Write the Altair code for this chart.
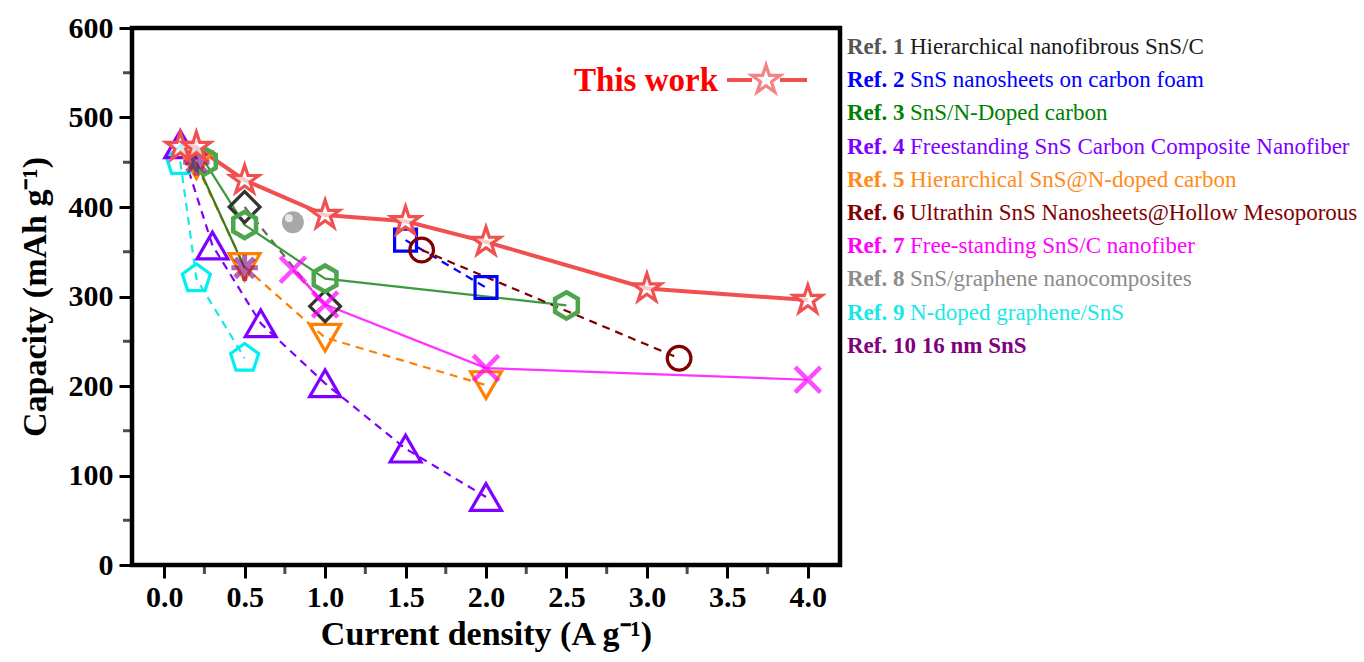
import altair as alt
import pandas as pd

# ---------------- data ----------------
this_x = [0.1, 0.2, 0.5, 1.0, 1.5, 2.0, 3.0, 4.0]
this_y = [467, 467, 430, 391, 384, 361, 309, 296]

ref1_x = [0.5, 1.0]
ref1_y = [400, 289]
ref2_x = [1.5, 2.0]
ref2_y = [363, 310]
ref3_x = [0.25, 0.5, 1.0, 2.5]
ref3_y = [451, 380, 320, 290]
ref4_x = [0.1, 0.3, 0.6, 1.0, 1.5, 2.0]
ref4_y = [470, 357, 270, 203, 130, 76]
ref5_x = [0.2, 0.5, 1.0, 2.0]
ref5_y = [447, 333, 254, 201]
ref6_x = [1.6, 3.2]
ref6_y = [352, 231]
ref7_x = [0.8, 1.0, 2.0, 4.0]
ref7_y = [330, 291, 220, 207]
ref8_x = [0.8]
ref8_y = [383]
ref9_x = [0.1, 0.2, 0.5]
ref9_y = [451, 320, 231]
ref10_x = [0.2, 0.5]
ref10_y = [450, 332]

legend_refs = ["Ref. 1", "Ref. 2", "Ref. 3", "Ref. 4", "Ref. 5", "Ref. 6",
               "Ref. 7", "Ref. 8", "Ref. 9", "Ref. 10 16 nm SnS"]
legend_texts = ["Hierarchical nanofibrous SnS/C", "SnS nanosheets on carbon foam",
                "SnS/N-Doped carbon", "Freestanding SnS Carbon Composite Nanofiber",
                "Hierarchical SnS@N-doped carbon",
                "Ultrathin SnS Nanosheets@Hollow Mesoporous",
                "Free-standing SnS/C nanofiber", "SnS/graphene nanocomposites",
                "N-doped graphene/SnS", ""]
legend_ref_colors = ["#555555", "#0000FF", "#008000", "#8000FF", "#FF8C1A",
                     "#800000", "#FF00FF", "#8C8C8C", "#1AE8E8", "#800080"]
legend_text_colors = ["#1A1A1A", "#0000FF", "#008000", "#8000FF", "#FF8C1A",
                      "#800000", "#FF00FF", "#8C8C8C", "#1AE8E8", "#800080"]

x_major = [0.0, 0.5, 1.0, 1.5, 2.0, 2.5, 3.0, 3.5, 4.0]
x_minor = [0.25, 0.75, 1.25, 1.75, 2.25, 2.75, 3.25, 3.75]
y_major = [0, 100, 200, 300, 400, 500, 600]
y_minor = [50, 150, 250, 350, 450, 550]

# ---------------- styling ----------------
SERIF = "Liberation Serif"
W, H = 708, 537
PAD_L, PAD_T = 132, 28

HEX = "M0,-1L0.866,-0.5L0.866,0.5L0,1L-0.866,0.5L-0.866,-0.5Z"
PENT = "M0,-1L0.951,-0.309L0.588,0.809L-0.588,0.809L-0.951,-0.309Z"
STAR = ("M0,-1L0.2245,-0.309L0.951,-0.309L0.363,0.118L0.588,0.809L0,0.382"
        "L-0.588,0.809L-0.363,0.118L-0.951,-0.309L-0.2245,-0.309Z")
XCROSS = "M-1,-1L1,1M-1,1L1,-1"
ASTER = "M0,-1L0,1M-1,0L1,0M-0.72,-0.72L0.72,0.72M-0.72,0.72L0.72,-0.72"

xscale = alt.Scale(domain=[-0.2, 4.2], nice=False, zero=False)
yscale = alt.Scale(domain=[0, 600], nice=False)

xaxis = alt.Axis(
    values=x_major, title="Current density (A g\u207B\u00B9)", format=".1f",
    tickSize=13, tickWidth=3, tickColor="black", domain=False, grid=False,
    labelFont=SERIF, labelFontWeight="bold", labelFontSize=30, labelColor="black",
    labelPadding=4, labelFlush=False, orient="bottom",
    titleFont=SERIF, titleFontWeight="bold", titleFontSize=34, titleColor="black",
    titlePadding=5,
)
yaxis = alt.Axis(
    values=y_major, title="Capacity (mAh g\u207B\u00B9)",
    tickSize=13, tickWidth=3, tickColor="black", domain=False, grid=False,
    labelFont=SERIF, labelFontWeight="bold", labelFontSize=30, labelColor="black",
    labelPadding=6, labelFlush=False, orient="left",
    titleFont=SERIF, titleFontWeight="bold", titleFontSize=34, titleColor="black",
    titlePadding=16,
)

X = alt.X("x:Q", scale=xscale, axis=xaxis)
Y = alt.Y("y:Q", scale=yscale, axis=yaxis)


def frame(xs, ys):
    return pd.DataFrame({"x": xs, "y": ys})


def line_layer(xs, ys, color, width=2.2, dash=None, opacity=1.0):
    kw = dict(color=color, strokeWidth=width, opacity=opacity)
    if dash:
        kw["strokeDash"] = dash
    return alt.Chart(frame(xs, ys)).mark_line(**kw).encode(x=X, y=Y)


def point_layer(xs, ys, shape, size, color, sw=3, opacity=1.0):
    return alt.Chart(frame(xs, ys)).mark_point(
        shape=shape, size=size, stroke=color, strokeWidth=sw, opacity=opacity,
        filled=False
    ).encode(x=X, y=Y)


# minor ticks
minor_x = alt.Chart(pd.DataFrame({"x": x_minor})).mark_tick(
    color="black", size=9, thickness=3, orient="vertical"
).encode(x=X, y=alt.value(H + 4.5))
minor_y = alt.Chart(pd.DataFrame({"y": y_minor})).mark_tick(
    color="black", size=9, thickness=3, orient="horizontal"
).encode(y=Y, x=alt.value(-4.5))

lines = [
    line_layer(ref9_x, ref9_y, "#1AE8E8", 2.2, [8, 6]),
    line_layer(ref4_x, ref4_y, "#8000FF", 2.2, [8, 6]),
    line_layer(ref5_x, ref5_y, "#FF8000", 2.2, [8, 6]),
    line_layer(ref1_x, ref1_y, "#666666", 2.2, [8, 6]),
    line_layer(ref3_x, ref3_y, "#3C9A3C", 2.2),
    line_layer(ref10_x, ref10_y, "#3D7A1F", 2.2),
    line_layer(ref7_x, ref7_y, "#FF33FF", 2.2),
    line_layer(ref2_x, ref2_y, "#0000FF", 2.2, [8, 6]),
    line_layer(ref6_x, ref6_y, "#800000", 2.2, [8, 6]),
    line_layer(this_x, this_y, "#F05050", 4),
]

points = [
    point_layer(ref9_x, ref9_y, PENT, 870, "#00F0F0", 3.2),
    point_layer(ref4_x, ref4_y, "triangle-up", 950, "#8000FF", 3.2),
    point_layer(ref5_x, ref5_y, "triangle-down", 950, "#FF8000", 3.2),
    point_layer(ref1_x, ref1_y, "diamond", 950, "#333333", 3.2),
    point_layer(ref3_x, ref3_y, HEX, 690, "#4DA64D", 4.5),
    point_layer(ref2_x, ref2_y, "square", 480, "#0000FF", 3.2),
    point_layer(ref6_x, ref6_y, "circle", 560, "#800000", 3.2),
    point_layer(ref7_x, ref7_y, XCROSS, 640, "#FF00FF", 4.5, opacity=0.7),
    alt.Chart(frame(ref8_x, ref8_y)).mark_point(
        shape="circle", size=480, filled=True, color="#A8A8A8", opacity=1
    ).encode(x=X, y=Y),
    alt.Chart(frame(ref8_x, ref8_y)).mark_point(
        shape="circle", size=60, filled=True, color="#E8E8E8", opacity=1,
        xOffset=-4, yOffset=-4
    ).encode(x=X, y=Y),
    point_layer(ref10_x, ref10_y, ASTER, 700, "#800080", 5, opacity=0.6),
    alt.Chart(frame(this_x, this_y)).mark_point(
        shape=STAR, size=900, stroke="#F05050", strokeWidth=3.2, filled=True,
        fill="white", fillOpacity=0.7
    ).encode(x=X, y=Y),
]

# "This work" key inside the plot
one = pd.DataFrame({"t": ["This work"]})
this_key_text = alt.Chart(one).mark_text(
    font=SERIF, fontWeight="bold", fontSize=33, color="#FF0000",
    align="right", baseline="middle"
).encode(text="t:N", x=alt.value(586), y=alt.value(53))
key_seg1 = alt.Chart(one).mark_rule(
    color="#F05050", strokeWidth=4).encode(x=alt.value(595), x2=alt.value(620), y=alt.value(52))
key_seg2 = alt.Chart(one).mark_rule(
    color="#F05050", strokeWidth=4).encode(x=alt.value(648), x2=alt.value(675), y=alt.value(52))
key_star = alt.Chart(one).mark_point(
    shape=STAR, size=900, stroke="#F05050", strokeWidth=3.2, filled=False
).encode(x=alt.value(634), y=alt.value(52))

# right-hand legend text
leg = pd.DataFrame({
    "ref": legend_refs, "txt": legend_texts,
    "rc": legend_ref_colors, "tc": legend_text_colors,
    "i": list(range(len(legend_refs))),
})
leg_ref = alt.Chart(leg).mark_text(
    font=SERIF, fontWeight="bold", fontSize=23, align="left", baseline="middle"
).encode(
    text="ref:N", color=alt.Color("rc:N", scale=None),
    x=alt.value(715), y=alt.Y("ypix:Q", scale=None, axis=None),
).transform_calculate(ypix="19 + datum.i * 33.2")
leg_txt = alt.Chart(leg).mark_text(
    font=SERIF, fontSize=23, align="left", baseline="middle"
).encode(
    text="txt:N", color=alt.Color("tc:N", scale=None),
    x=alt.value(778), y=alt.Y("ypix:Q", scale=None, axis=None),
).transform_calculate(ypix="19 + datum.i * 33.2")

chart = alt.layer(
    minor_x, minor_y, *lines, *points, this_key_text, key_seg1, key_seg2, key_star,
    leg_ref, leg_txt
).properties(
    width=W, height=H, background="white",
    autosize=alt.AutoSizeParams(type="none"),
    padding={"left": PAD_L, "top": PAD_T, "right": 1364 - PAD_L - W, "bottom": 662 - PAD_T - H},
).configure_view(
    stroke="black", strokeWidth=4.5
)

chart.save("out.html", embed_options={"renderer": "svg", "actions": False})
